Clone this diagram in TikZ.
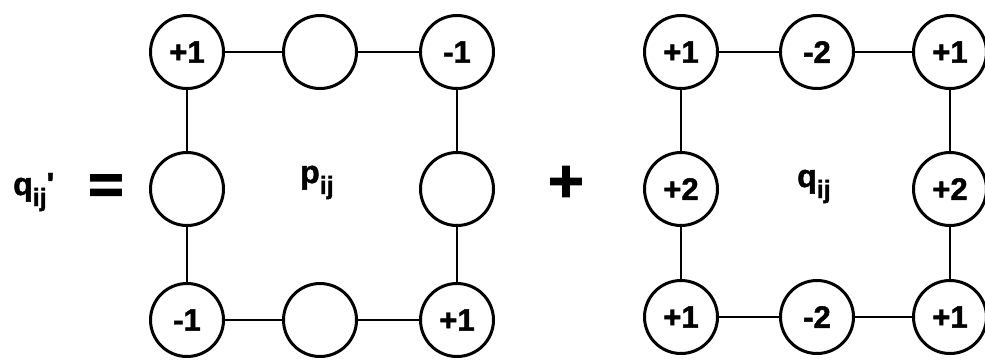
\documentclass[tikz,border=0pt]{standalone}
\usepackage{fontspec}
\setmainfont{Liberation Sans}
\newfontfamily\opfont{Liberation Sans}[FakeBold=6]
\newfontfamily\labfont{Liberation Sans Bold}[FakeBold=1.5]
\newcommand{\idx}[1]{\raisebox{-11pt}{\fontsize{25}{25}\selectfont #1}}
\begin{document}
\begin{tikzpicture}
  [
    x=1pt, y=-1pt,
    site/.style =
      {draw, circle, line width=3pt, inner sep=0pt, minimum size=73pt,
       font=\fontsize{31}{31}\selectfont\labfont},
    bond/.style = {line width=2.2pt},
    op/.style = {font=\fontsize{58}{58}\selectfont\opfont, inner sep=0pt},
    lab/.style = {font=\fontsize{32}{32}\selectfont\labfont, inner sep=0pt}
  ]
  \useasboundingbox (0,0) rectangle (985,360);

  % left side
  \node [lab, anchor=base west] at (13, 195) (qn) {q\idx{ij}'};
  \node [op] at (106, 190) (eq) {=};

  % p_ij grid
  \node [site] at (187,  52) (pa) {+1};
  \node [site] at (320,  52) (pb) {};
  \node [site] at (457,  52) (pc) {-1};
  \node [site] at (187, 189) (pd) {};
  \node [site] at (457, 189) (pe) {};
  \node [site] at (187, 320) (pf) {-1};
  \node [site] at (320, 320) (pg) {};
  \node [site] at (457, 320) (ph) {+1};
  \node [lab, anchor=base west] at (300, 183) (pl) {p\idx{ij}};

  \draw [bond] (pa) -- (pb);
  \draw [bond] (pb) -- (pc);
  \draw [bond] (pa) -- (pd);
  \draw [bond] (pd) -- (pf);
  \draw [bond] (pc) -- (pe);
  \draw [bond] (pe) -- (ph);
  \draw [bond] (pf) -- (pg);
  \draw [bond] (pg) -- (ph);

  \node [op] at (566, 184) (plus) {+};

  % q_ij grid
  \node [site] at (681,  52) (qa) {+1};
  \node [site] at (817,  52) (qb) {-2};
  \node [site] at (950,  52) (qc) {+1};
  \node [site] at (681, 189) (qd) {+2};
  \node [site] at (950, 189) (qe) {+2};
  \node [site] at (681, 317) (qf) {+1};
  \node [site] at (817, 317) (qg) {-2};
  \node [site] at (950, 317) (qh) {+1};
  \node [lab, anchor=base west] at (797, 187) (ql) {q\idx{ij}};

  \draw [bond] (qa) -- (qb);
  \draw [bond] (qb) -- (qc);
  \draw [bond] (qa) -- (qd);
  \draw [bond] (qd) -- (qf);
  \draw [bond] (qc) -- (qe);
  \draw [bond] (qe) -- (qh);
  \draw [bond] (qf) -- (qg);
  \draw [bond] (qg) -- (qh);
\end{tikzpicture}
\end{document}
